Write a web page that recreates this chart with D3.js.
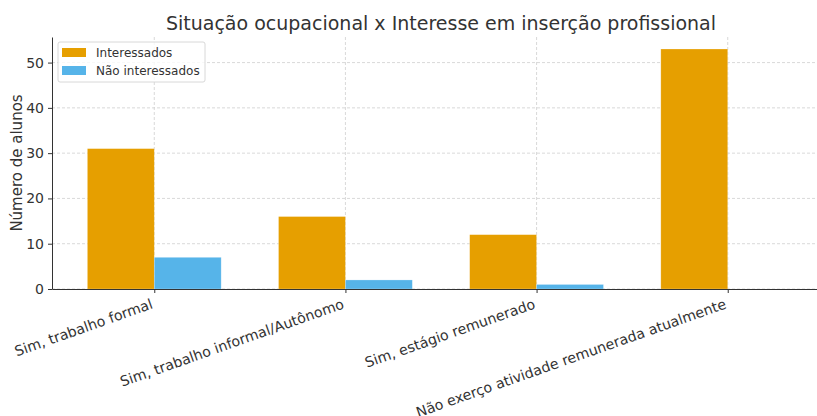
<!DOCTYPE html>
<html>
<head>
<meta charset="utf-8">
<script src="https://cdn.jsdelivr.net/npm/d3@7"></script>
<style>
  body { margin: 0; background: #fff; }
  svg { font-family: "DejaVu Sans", sans-serif; }
</style>
</head>
<body>
<div id="chart"></div>
<script>
(function (d3) {
    'use strict';

    var categories = [
        'Sim, trabalho formal',
        'Sim, trabalho informal/Autônomo',
        'Sim, estágio remunerado',
        'Não exerço atividade remunerada atualmente'
    ];
    var interessados = [31, 16, 12, 53];
    var naoInteressados = [7, 2, 1, 0];
    var seriesNames = ['Interessados', 'Não interessados'];
    var yTicks = [0, 10, 20, 30, 40, 50];

    var colors = ['#E69F00', '#56B4E9'];
    var width = 817, height = 416;
    var barW = 0.35;

    // axes box (right edge runs past the picture, like the original)
    var left = 52, right = 830, top = 37, bottom = 289;

    var svg = d3.select('#chart').append('svg')
        .attr('width', width)
        .attr('height', height);

    var x = d3.scaleLinear()
        .domain([-barW - 0.185, categories.length - 1 + barW + 0.185])
        .range([left, right]);
    var yMax = d3.max(interessados.concat(naoInteressados)) * 1.05;
    var y = d3.scaleLinear().domain([0, yMax]).range([bottom, top]);

    // grid
    var grid = svg.append('g').attr('stroke', '#cfcfcf').attr('stroke-width', 0.8)
        .attr('stroke-dasharray', '3,2');
    grid.selectAll('line.h').data(yTicks).enter().append('line')
        .attr('x1', left).attr('x2', right)
        .attr('y1', function (d) { return y(d); })
        .attr('y2', function (d) { return y(d); });
    grid.selectAll('line.v').data(categories).enter().append('line')
        .attr('y1', top).attr('y2', bottom)
        .attr('x1', function (d, i) { return x(i); })
        .attr('x2', function (d, i) { return x(i); });

    // bars
    var series = [interessados, naoInteressados];
    series.forEach(function (vals, s) {
        svg.append('g').selectAll('rect').data(vals).enter().append('rect')
            .attr('x', function (d, i) { return x(i - barW + s * barW); })
            .attr('width', x(barW) - x(0))
            .attr('y', function (d) { return y(d); })
            .attr('height', function (d) { return y(0) - y(d); })
            .attr('fill', colors[s])
            .attr('stroke', '#fff')
            .attr('stroke-opacity', 0.4)
            .attr('stroke-width', 0.6);
    });

    // y axis
    var yAxis = svg.append('g')
        .attr('transform', 'translate(' + left + ',0)')
        .call(d3.axisLeft(y).tickValues(yTicks).tickSizeInner(4).tickSizeOuter(0).tickPadding(4));
    yAxis.select('.domain').attr('stroke', '#333').attr('stroke-width', 1);
    yAxis.selectAll('.tick line').attr('stroke', '#333');
    yAxis.selectAll('text').attr('font-size', 14).attr('fill', '#333')
        .attr('font-family', '"DejaVu Sans", sans-serif');

    // x axis
    var xAxis = svg.append('g')
        .attr('transform', 'translate(0,' + bottom + ')')
        .call(d3.axisBottom(x).tickValues(d3.range(categories.length))
            .tickSizeInner(4).tickSizeOuter(0)
            .tickFormat(function (d) { return categories[d]; }));
    xAxis.select('.domain').attr('stroke', '#333').attr('stroke-width', 1);
    xAxis.selectAll('.tick line').attr('stroke', '#333');
    xAxis.selectAll('text')
        .attr('font-size', 14.2).attr('fill', '#333')
        .attr('font-family', '"DejaVu Sans", sans-serif')
        .attr('text-anchor', 'end')
        .attr('dy', null).attr('y', 0)
        .attr('transform', 'translate(-1,19) rotate(-19.5)');

    // labels
    svg.append('text')
        .attr('x', (left + right) / 2).attr('y', 30)
        .attr('text-anchor', 'middle')
        .attr('font-size', 19).attr('fill', '#333')
        .text('Situação ocupacional x Interesse em inserção profissional');

    svg.append('text')
        .attr('transform', 'translate(22,' + ((top + bottom) / 2) + ') rotate(-90)')
        .attr('text-anchor', 'middle')
        .attr('font-size', 15).attr('fill', '#333')
        .text('Número de alunos');

    // legend
    var lg = svg.append('g').attr('transform', 'translate(58,42)');
    lg.append('rect').attr('width', 147).attr('height', 40).attr('rx', 2)
        .attr('fill', '#fff').attr('fill-opacity', 0.8)
        .attr('stroke', '#d8d8d8');
    seriesNames.forEach(function (name, i) {
        lg.append('rect').attr('x', 4).attr('y', 6 + i * 18)
            .attr('width', 24).attr('height', 9).attr('fill', colors[i]);
        lg.append('text').attr('x', 38).attr('y', 15 + i * 18)
            .attr('font-size', 12).attr('fill', '#333').text(name);
    });

})(d3);
</script>
</body>
</html>
